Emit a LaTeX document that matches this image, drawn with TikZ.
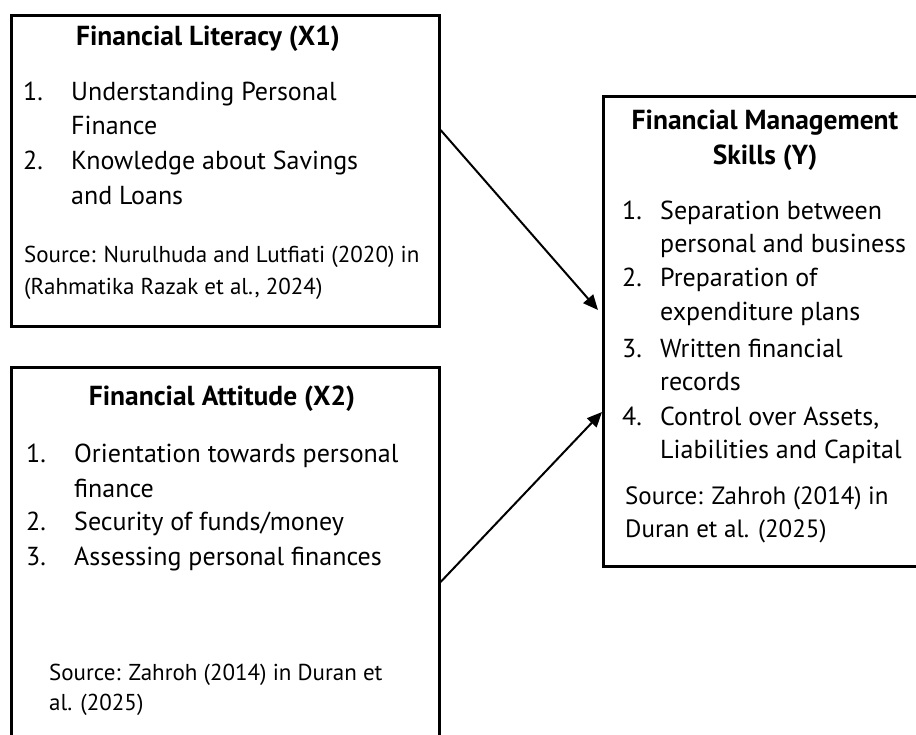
\documentclass[tikz,border=0pt]{standalone}
\usepackage{fontspec}
\setmainfont{PT Sans}
\usetikzlibrary{arrows.meta}
\tikzset{
  box/.style={draw, line width=2.6pt, anchor=north west, inner sep=0pt},
  txt/.style={anchor=mid west, inner sep=0pt, font=\fontsize{26}{34}\selectfont},
  src/.style={txt, font=\fontsize{23}{32}\selectfont},
  head/.style={anchor=mid, inner sep=0pt, font=\fontsize{27.5}{35}\selectfont\bfseries},
  link/.style={line width=2pt, -{Triangle[length=15pt,width=13pt]}},
}

\begin{document}
\begin{tikzpicture}[x=1pt, y=-1pt]
  \path[use as bounding box, clip] (0,0) rectangle (916,735);

  \node[box, minimum width=428pt, minimum height=311pt] (lit) at (10,14) {};
  \node[box, minimum width=428pt, minimum height=380pt] (att) at (10,366) {};
  \node[box, minimum width=326pt, minimum height=470pt] (mgmt) at (602,95) {};

  \node[head] (lithead) at (208,43) {Financial Literacy (X1)};
  \node[txt] (lit1) at (23,98) {1.};
  \node[txt] (lit1a) at (71,98) {Understanding Personal};
  \node[txt] (lit1b) at (71,132) {Finance};
  \node[txt] (lit2) at (23,167) {2.};
  \node[txt] (lit2a) at (71,167) {Knowledge about Savings};
  \node[txt] (lit2b) at (71,202) {and Loans};
  \node[src] (litsrca) at (24,260) {Source: Nurulhuda and Lutfiati (2020) in};
  \node[src] (litsrcb) at (24,292) {(Rahmatika Razak et al., 2024)};

  \node[head] (atthead) at (222,403) {Financial Attitude (X2)};
  \node[txt] (att1) at (26,460) {1.};
  \node[txt] (att1a) at (74,460) {Orientation towards personal};
  \node[txt] (att1b) at (74,495) {finance};
  \node[txt] (att2) at (26,528) {2.};
  \node[txt] (att2a) at (74,528) {Security of funds/money};
  \node[txt] (att3) at (26,563) {3.};
  \node[txt] (att3a) at (74,563) {Assessing personal finances};
  \node[src] (attsrca) at (49,678) {Source: Zahroh (2014) in Duran et};
  \node[src] (attsrcb) at (49,708) {al. (2025)};

  \node[head] (mgmtheada) at (765,127) {Financial Management};
  \node[head] (mgmtheadb) at (765,162) {Skills (Y)};
  \node[txt] (mgmt1) at (622,217) {1.};
  \node[txt] (mgmt1a) at (660,217) {Separation between};
  \node[txt] (mgmt1b) at (660,250) {personal and business};
  \node[txt] (mgmt2) at (622,284) {2.};
  \node[txt] (mgmt2a) at (660,284) {Preparation of};
  \node[txt] (mgmt2b) at (660,318) {expenditure plans};
  \node[txt] (mgmt3) at (622,355) {3.};
  \node[txt] (mgmt3a) at (660,355) {Written financial};
  \node[txt] (mgmt3b) at (660,388) {records};
  \node[txt] (mgmt4) at (622,423) {4.};
  \node[txt] (mgmt4a) at (660,423) {Control over Assets,};
  \node[txt] (mgmt4b) at (660,456) {Liabilities and Capital};
  \node[src, font=\fontsize{25}{33}\selectfont] (mgmtsrca) at (625,502) {Source: Zahroh (2014) in};
  \node[src, font=\fontsize{25}{33}\selectfont] (mgmtsrcb) at (625,535) {Duran et al. (2025)};

  \draw[link] ([yshift=-116pt]lit.north east) -- ([xshift=-4pt,yshift=-215pt]mgmt.north west);
  \draw[link] ([yshift=-216pt]att.north east) -- ([yshift=-317pt]mgmt.north west);
\end{tikzpicture}
\end{document}
